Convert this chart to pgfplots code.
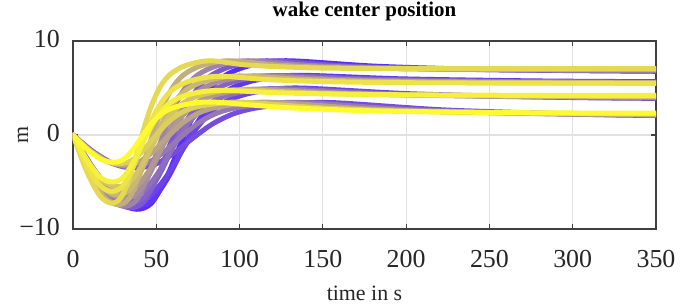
\documentclass[border=0pt]{standalone}
\usepackage{fontspec}
\setmainfont{Liberation Serif}
\usepackage{pgfplots}
\pgfplotsset{compat=1.18}
\definecolor{cb}{RGB}{90,44,255}
\definecolor{cy}{RGB}{255,250,48}
\definecolor{axgray}{RGB}{64,64,64}
\definecolor{gridgray}{RGB}{225,225,225}
\definecolor{txt}{RGB}{38,38,38}
\begin{document}
\begin{tikzpicture}
\begin{axis}[
  scale only axis, width=583bp, height=188bp,
  xmin=0, xmax=350, ymin=-10, ymax=10,
  xtick={0,50,...,350}, ytick={-10,0,10}, yticklabels={−10,0,10},
  /pgf/number format/assume math mode=true,
  tick label style={font=\fontsize{26}{26}\selectfont, text=txt},
  xticklabel style={anchor=base, yshift=-38bp},
  yticklabel style={anchor=east, inner sep=0pt, xshift=-13bp, yshift=2bp},
  axis line style={axgray, line width=1.3bp},
  tick style={axgray, line width=1.2bp}, major tick length=5bp, tick align=inside,
  grid=major, major grid style={gridgray, line width=1.2bp},
  title={\bfseries wake center position},
  title style={font=\fontsize{21}{21}\selectfont, text=black, at={(rel axis cs:0.5,1)}, anchor=base, yshift=19bp},
  xlabel={time in s},
  xlabel style={font=\fontsize{22}{22}\selectfont, text=txt, at={(rel axis cs:0.5,0)}, anchor=base, yshift=-71bp},
  ylabel={m},
  ylabel style={font=\fontsize{22}{22}\selectfont, text=txt, at={(axis description cs:-0.086,0.5)}, anchor=center},
  every axis plot/.append style={smooth, line width=5bp, line join=round, line cap=round},
]
\coordinate (sw) at (rel axis cs:0,0);
% p0
\addplot[color=cy!0!cb] coordinates {(0,0) (13.3,-4.13) (26.6,-7.04) (38,-7.9) (47,-7.27) (56,-4.58) (65,-0.79) (74,2.69) (83,5.06) (92,6.40) (105.5,7.35) (128,7.9) (184,7.30) (256,6.94) (350,6.78)};
\addplot[color=cy!5!cb] coordinates {(0,0) (12.95,-3.97) (25.9,-6.77) (37,-7.6) (46.8,-7.04) (56.6,-4.67) (66.4,-1.32) (76.2,1.75) (86,3.84) (95.8,5.03) (110.5,5.86) (135,6.35) (198,5.97) (279,5.75) (350,5.67)};
\addplot[color=cy!11!cb] coordinates {(0,0) (12.6,-3.66) (25.2,-6.24) (36,-7.0) (45.9,-6.52) (55.8,-4.48) (65.7,-1.6) (75.6,1.04) (85.5,2.84) (95.4,3.86) (110.25,4.58) (135,5.0) (205,4.37) (295,4.00) (350,3.90)};
\addplot[color=cy!16!cb] coordinates {(0,0) (12.6,-1.83) (25.2,-3.12) (36,-3.5) (47.9,-3.22) (59.8,-2.04) (71.7,-0.37) (83.6,1.16) (95.5,2.20) (107.4,2.79) (125.25,3.21) (155,3.45) (225,2.65) (315,2.17) (350,2.08)};
% p1
\addplot[color=cy!21!cb] coordinates {(0,0) (11.99,-4.04) (23.98,-6.90) (34.25,-7.74) (42.5,-7.11) (50.7,-4.46) (58.9,-0.70) (67.15,2.74) (75.4,5.09) (83.6,6.41) (95.9,7.35) (116.5,7.9) (163.75,7.34) (224.5,7.01) (319,6.85) (350,6.82)};
\addplot[color=cy!26!cb] coordinates {(0,0) (11.73,-3.76) (23.45,-6.42) (33.5,-7.2) (42.5,-6.66) (51.45,-4.36) (60.4,-1.11) (69.4,1.87) (78.4,3.89) (87.35,5.04) (100.8,5.86) (123.25,6.33) (178.4,5.95) (249.25,5.73) (350,5.62)};
\addplot[color=cy!32!cb] coordinates {(0,0) (11.46,-3.40) (22.93,-5.79) (32.75,-6.5) (41.8,-6.04) (50.85,-4.10) (59.9,-1.35) (68.95,1.17) (78,2.88) (87.05,3.85) (100.6,4.54) (123.25,4.94) (185.4,4.40) (265.25,4.08) (350,3.94)};
\addplot[color=cy!37!cb] coordinates {(0,0) (11.55,-1.75) (23.1,-2.98) (33,-3.35) (43.4,-3.08) (53.85,-1.92) (64.3,-0.29) (74.7,1.21) (85.1,2.23) (95.55,2.81) (111.2,3.22) (137.25,3.46) (201.1,2.71) (283.25,2.26) (350,2.11)};
% p2
\addplot[color=cy!42!cb] coordinates {(0,0) (10.68,-3.96) (21.35,-6.75) (30.5,-7.58) (37.95,-6.96) (45.4,-4.33) (52.85,-0.61) (60.3,2.79) (67.75,5.11) (75.2,6.43) (86.4,7.36) (105,7.9) (143.5,7.39) (193,7.09) (270,6.93) (350,6.89)};
\addplot[color=cy!47!cb] coordinates {(0,0) (10.5,-3.55) (21,-6.06) (30,-6.8) (38.15,-6.28) (46.3,-4.05) (54.45,-0.91) (62.6,1.98) (70.75,3.94) (78.9,5.06) (91.1,5.84) (111.5,6.3) (158.75,5.92) (219.5,5.70) (314,5.59) (350,5.57)};
\addplot[color=cy!53!cb] coordinates {(0,0) (10.33,-3.14) (20.65,-5.35) (29.5,-6.0) (37.7,-5.56) (45.9,-3.72) (54.1,-1.10) (62.3,1.29) (70.5,2.92) (78.7,3.85) (91,4.50) (111.5,4.88) (165.75,4.43) (235.5,4.16) (350,4.02)};
\addplot[color=cy!58!cb] coordinates {(0,0) (10.5,-1.67) (21,-2.85) (30,-3.2) (38.95,-2.93) (47.9,-1.80) (56.85,-0.19) (65.8,1.28) (74.75,2.28) (83.7,2.85) (97.1,3.25) (119.5,3.48) (177.25,2.78) (251.5,2.36) (350,2.17)};
% p3
\addplot[color=cy!63!cb] coordinates {(0,0) (9.36,-3.87) (18.73,-6.60) (26.75,-7.41) (33.4,-6.80) (40.1,-4.20) (46.8,-0.52) (53.45,2.85) (60.1,5.14) (66.8,6.45) (76.8,7.36) (93.5,7.9) (123.25,7.43) (161.5,7.15) (221,7.01) (350,6.96)};
\addplot[color=cy!68!cb] coordinates {(0,0) (9.28,-3.34) (18.55,-5.70) (26.5,-6.4) (33.8,-5.89) (41.15,-3.74) (48.5,-0.69) (55.8,2.10) (63.1,4.00) (70.45,5.08) (81.4,5.84) (99.75,6.28) (139.1,5.90) (189.75,5.68) (268.5,5.57) (350,5.54)};
\addplot[color=cy!74!cb] coordinates {(0,0) (9.19,-2.87) (18.38,-4.90) (26.25,-5.5) (33.6,-5.09) (40.95,-3.34) (48.3,-0.86) (55.65,1.41) (63,2.95) (70.35,3.83) (81.4,4.45) (99.75,4.81) (146.1,4.45) (205.75,4.24) (298.5,4.13) (350,4.11)};
\addplot[color=cy!79!cb] coordinates {(0,0) (9.45,-1.59) (18.9,-2.72) (27,-3.05) (34.5,-2.79) (41.95,-1.68) (49.4,-0.11) (56.9,1.33) (64.4,2.31) (71.85,2.87) (83.05,3.26) (101.75,3.49) (153.4,2.84) (219.75,2.45) (322.75,2.26) (350,2.24)};
% p4
\addplot[color=cy!84!cb] coordinates {(0,0) (8.05,-3.79) (16.1,-6.46) (23,-7.25) (28.9,-6.64) (34.8,-4.07) (40.7,-0.43) (46.6,2.90) (52.5,5.17) (58.4,6.46) (67.25,7.37) (82,7.9) (103,7.47) (130,7.22) (172,7.09) (350,7.05)};
\addplot[color=cy!89!cb] coordinates {(0,0) (8.05,-3.14) (16.1,-5.35) (23,-6.0) (29.5,-5.51) (36,-3.43) (42.5,-0.49) (49,2.21) (55.5,4.05) (62,5.09) (71.75,5.82) (88,6.25) (119.5,5.87) (160,5.65) (223,5.54) (350,5.5)};
\addplot[color=cy!95!cb] coordinates {(0,0) (8.05,-2.61) (16.1,-4.46) (23,-5.0) (29.5,-4.61) (36,-2.95) (42.5,-0.61) (49,1.53) (55.5,3.00) (62,3.82) (71.75,4.41) (88,4.75) (126.5,4.47) (176,4.31) (253,4.23) (350,4.21)};
\addplot[color=cy!100!cb] coordinates {(0,0) (8.4,-1.52) (16.8,-2.58) (24,-2.9) (30,-2.64) (36,-1.56) (42,-0.02) (48,1.39) (54,2.35) (60,2.89) (69,3.28) (84,3.5) (129.5,2.90) (188,2.54) (279,2.36) (350,2.32)};
\end{axis}
\pgfresetboundingbox
\path[use as bounding box] ([shift={(-73bp,-77bp)}]sw) rectangle ++(691bp,306bp);
\end{tikzpicture}
\end{document}
